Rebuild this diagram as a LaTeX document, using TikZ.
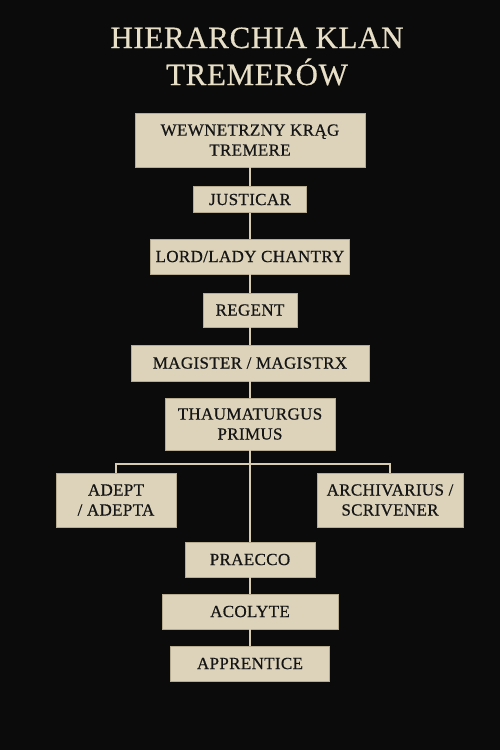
\documentclass[tikz,border=0pt]{standalone}
\usepackage{fontspec}
\setmainfont{Liberation Serif}
\newfontfamily\boxfont[LetterSpace=2,FakeBold=0.6]{Liberation Serif}
\newfontfamily\titlefont[LetterSpace=2,FakeBold=0.5]{Liberation Serif}
\definecolor{bgc}{HTML}{0B0B0B}
\definecolor{boxfill}{HTML}{DDD3BB}
\definecolor{boxline}{HTML}{B8AC90}
\definecolor{linec}{HTML}{D8CCB0}
\definecolor{titlec}{HTML}{E8DFC8}
\definecolor{textc}{HTML}{151515}
\begin{document}
\begin{tikzpicture}[x=1pt,y=-1pt,
  rank/.style={draw=boxline, line width=0.8pt, fill=boxfill, text=textc,
    inner sep=0pt, align=center, font=\boxfont\fontsize{17}{20}\selectfont},
  conn/.style={draw=linec, line width=1.5pt},
  titletext/.style={text=titlec, font=\titlefont\fontsize{31}{36}\selectfont, inner sep=0pt, anchor=base}]
\fill[bgc] (0,0) rectangle (500,750);
\useasboundingbox (0,0) rectangle (500,750);
\node[titletext] (t1) at (257,48) {HIERARCHIA KLAN};
\node[titletext] (t2) at (257,85) {TREMERÓW};
\coordinate (jm) at (250,464);
\node[rank, minimum width=230, minimum height=54] (n1) at (250,140) {WEWNETRZNY KRĄG\\TREMERE};
\node[rank, minimum width=113, minimum height=26] (n2) at (250,199.5) {JUSTICAR};
\node[rank, minimum width=199, minimum height=35] (n3) at (250,256.5) {LORD/LADY CHANTRY};
\node[rank, minimum width=94, minimum height=34] (n4) at (250,310) {REGENT};
\node[rank, minimum width=238, minimum height=36] (n5) at (250,363) {MAGISTER / MAGISTRX};
\node[rank, minimum width=170, minimum height=52] (n6) at (250,424) {THAUMATURGUS\\PRIMUS};
\node[rank, minimum width=120, minimum height=54] (n7) at (116,500) {ADEPT\\/ ADEPTA};
\node[rank, minimum width=146, minimum height=54] (n8) at (390,500) {ARCHIVARIUS /\\SCRIVENER};
\node[rank, minimum width=130, minimum height=35] (n9) at (250,559.5) {PRAECCO};
\node[rank, minimum width=176, minimum height=35] (n10) at (250,611.5) {ACOLYTE};
\node[rank, minimum width=159, minimum height=35] (n11) at (250,663.5) {APPRENTICE};
\draw[conn] (n1.south) -- (n2.north);
\draw[conn] (n2.south) -- (n3.north);
\draw[conn] (n3.south) -- (n4.north);
\draw[conn] (n4.south) -- (n5.north);
\draw[conn] (n5.south) -- (n6.north);
\draw[conn] (n6.south) -- (n9.north);
\draw[conn] (n7.north) |- (jm) -| (n8.north);
\draw[conn] (n9.south) -- (n10.north);
\draw[conn] (n10.south) -- (n11.north);
\end{tikzpicture}
\end{document}
